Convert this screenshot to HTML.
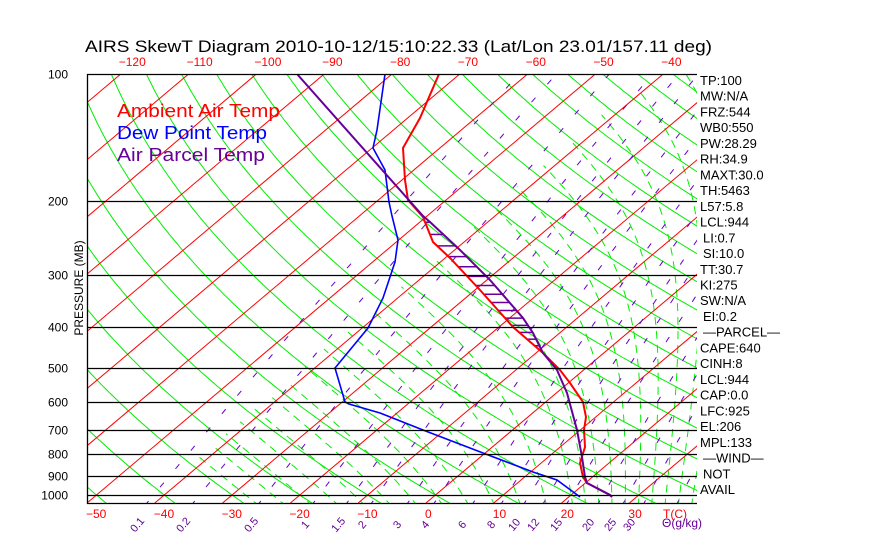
<!DOCTYPE html>
<html><head><meta charset="utf-8"><style>
html,body{margin:0;padding:0;background:#fff;width:870px;height:560px;overflow:hidden}
svg{display:block}
text{font-family:"Liberation Sans",sans-serif}
</style></head><body>
<svg id="s" width="870" height="560" xmlns="http://www.w3.org/2000/svg">
<defs><clipPath id="c"><rect x="87" y="74" width="610" height="429"/></clipPath></defs>
<g id="grid" clip-path="url(#c)"></g>
<g id="snd" clip-path="url(#c)"></g>
<g id="txt"></g>
<text x="85" y="52" font-size="17" textLength="627" lengthAdjust="spacingAndGlyphs">AIRS SkewT Diagram 2010-10-12/15:10:22.33 (Lat/Lon 23.01/157.11 deg)</text>
<text x="117" y="117" font-size="18" fill="#ff0000" textLength="163" lengthAdjust="spacingAndGlyphs">Ambient Air Temp</text>
<text x="117" y="139" font-size="18" fill="#0000ff" textLength="150" lengthAdjust="spacingAndGlyphs">Dew Point Temp</text>
<text x="117" y="161" font-size="18" fill="#660099" textLength="148" lengthAdjust="spacingAndGlyphs">Air Parcel Temp</text>
<text transform="translate(83,288) rotate(-90)" font-size="12" text-anchor="middle">PRESSURE (MB)</text>
</svg>
<script>
var NS="http://www.w3.org/2000/svg";
function Y(p){return 74+421*Math.log10(p/100);}
function X(T,y){return 426+6.78*T+1.185*(503-y);}
function el(par,tag,at,txt){var e=document.createElementNS(NS,tag);for(var k in at)e.setAttribute(k,at[k]);if(txt!==undefined)e.textContent=txt;document.getElementById(par).appendChild(e);return e;}
function poly(par,pts,st,w,dash){var d=pts.map(function(q){return q[0].toFixed(1)+","+q[1].toFixed(1)}).join(" ");var a={points:d,fill:"none",stroke:st,"stroke-width":w};if(dash)a["stroke-dasharray"]=dash;return el(par,"polyline",a);}
function es(Tc){return 6.112*Math.exp(17.67*Tc/(Tc+243.5));}
// dry adiabats
for(var th=-60;th<=210;th+=10){var pts=[];for(var p=1060;p>=95;p-=10){var T=(th+273.15)*Math.pow(p/1000,0.286)-273.15;var y=Y(p);pts.push([X(T,y),y]);}poly("grid",pts,"#00ee00",1);}
// moist adiabats
var mlist=[];for(var t=-28;t<20;t+=4)mlist.push(t);for(var t=20;t<=40;t+=2)mlist.push(t);
mlist.forEach(function(t0){
 function grad(p,T){var Tc=T-273.15;var e=es(Tc);var rs=0.622*e/(p-e);return (287*T+2.5e6*rs)/(1004+2.5e6*2.5e6*rs*0.622/(287*T*T))/p;}
 var T=t0+273.15;var up=[];for(var p=1000;p>=100;p-=5){if(T-273.15<-42)break;var y=Y(p);up.push([X(T-273.15,y),y]);T-=grad(p,T)*5;}
 T=t0+273.15;var dn=[];for(var p=1000;p<=1065;p+=5){var y=Y(p);dn.unshift([X(T-273.15,y),y]);T+=grad(p,T)*5;}
 poly("grid",dn.concat(up),"#00ee00",1,"8 6");
});
// isotherms
for(var T=-180;T<=50;T+=10){poly("grid",[[X(T,503),503],[X(T,74),74]],"#ff0000",1);}
// mixing ratio
var ws=[0.1,0.2,0.5,1,1.5,2,3,4,6,8,10,12,15,20,25,30,40];
ws.forEach(function(w){var pts=[];for(var p=1060;p>=100;p-=10){var e=w*p/(622+w);var l=Math.log(e/6.112);var Td=243.5*l/(17.67-l);var y=Y(p);pts.push([X(Td,y),y]);}poly("grid",pts,"#6600cc",1,"6 18");});
// pressure lines
[100,200,300,400,500,600,700,800,900,1000].forEach(function(p){var y=Math.round(Y(p))+0.5;el("txt","line",{x1:87,x2:697,y1:y,y2:y,stroke:"#000","stroke-width":1.3});el("txt","text",{x:68,y:y+4,"font-size":12,"text-anchor":"end"},String(p));});
el("txt","line",{x1:87,x2:697,y1:503.5,y2:503.5,stroke:"#000","stroke-width":1.3});
el("txt","line",{x1:87.5,x2:87.5,y1:74,y2:504,stroke:"#000","stroke-width":1.3});
// top/bottom labels
for(var T=-120;T<=-40;T+=10){el("txt","text",{x:X(T,74)-2,y:66,"font-size":12,fill:"#ff0000"},String(T).replace("-","\u2212"));}
for(var T=-50;T<=30;T+=10){el("txt","text",{x:X(T,503)-1,y:518,"font-size":12,fill:"#ff0000"},String(T).replace("-","\u2212"));}
el("txt","text",{x:663,y:518,"font-size":12,fill:"#ff0000"},"T(C)");
var ml=[["0.1",140],["0.2",186],["0.5",254],["1",308],["1.5",341],["2",365],["3",400],["4",428],["6",465],["8",494],["10",517],["12",536],["15",559],["20",591],["25",613],["30",632]];
ml.forEach(function(m){el("txt","text",{transform:"translate("+m[1]+",527) rotate(-50)","font-size":11,fill:"#660099","text-anchor":"middle"},m[0]);});
el("txt","text",{x:662,y:527,"font-size":12,fill:"#660099"},"\u0398(g/kg)");
// right labels
var rl=["TP:100","MW:N/A","FRZ:544","WB0:550","PW:28.29","RH:34.9","MAXT:30.0","TH:5463","L57:5.8","LCL:944","LI:0.7","SI:10.0","TT:30.7","KI:275","SW:N/A","EI:0.2","\u2014PARCEL\u2014","CAPE:640","CINH:8","LCL:944","CAP:0.0","LFC:925","EL:206","MPL:133","\u2014WIND\u2014","NOT","AVAIL"];
rl.forEach(function(s,i){var a=s.charAt(0)=="\u2014"||s=="NOT"||s=="LI:0.7"||s=="SI:10.0"||s=="EI:0.2"?703:700;el("txt","text",{x:a,y:85+i*15.73,"font-size":13},s);});
// sounding
var red=[[439,74],[420,118],[403,148],[405,180],[408,200],[423,217],[433,242],[450,258],[480,290],[513,327],[543,353],[560,370],[570,383],[583,402],[586,417],[584,430],[585,447],[580,463],[583,477],[587,483],[610,495],[612,497]];
var par=[[297,74],[423,216],[430,222],[460,250],[490,280],[523,318],[533,333],[543,353],[557,370],[567,393],[577,430],[582,457],[585,477],[587,483],[610,495],[612,497]];
var blu=[[385,74],[377,130],[373,148],[385,170],[389,202],[392,216],[398,240],[395,262],[389,280],[383,298],[368,328],[335,368],[345,402],[349,404],[380,413],[423,430],[483,453],[533,472],[557,480],[580,497]];
function xAt(pl,y){for(var i=0;i<pl.length-1;i++){var a=pl[i],b=pl[i+1];if(y>=a[1]&&y<=b[1]){return a[0]+(b[0]-a[0])*(y-a[1])/(b[1]-a[1]);}}return null;}
for(var p=225;p<=470;p+=15.5){var y=Y(p);var x1=xAt(red,y),x2=xAt(par,y);if(x1!==null&&x2!==null&&x2>x1)el("snd","line",{x1:x1,x2:x2,y1:y,y2:y,stroke:"#660099","stroke-width":1.5});}
poly("snd",blu,"#0000ff",1.6);
poly("snd",red,"#ff0000",2);
poly("snd",par,"#660099",2);
</script>
</body></html>
